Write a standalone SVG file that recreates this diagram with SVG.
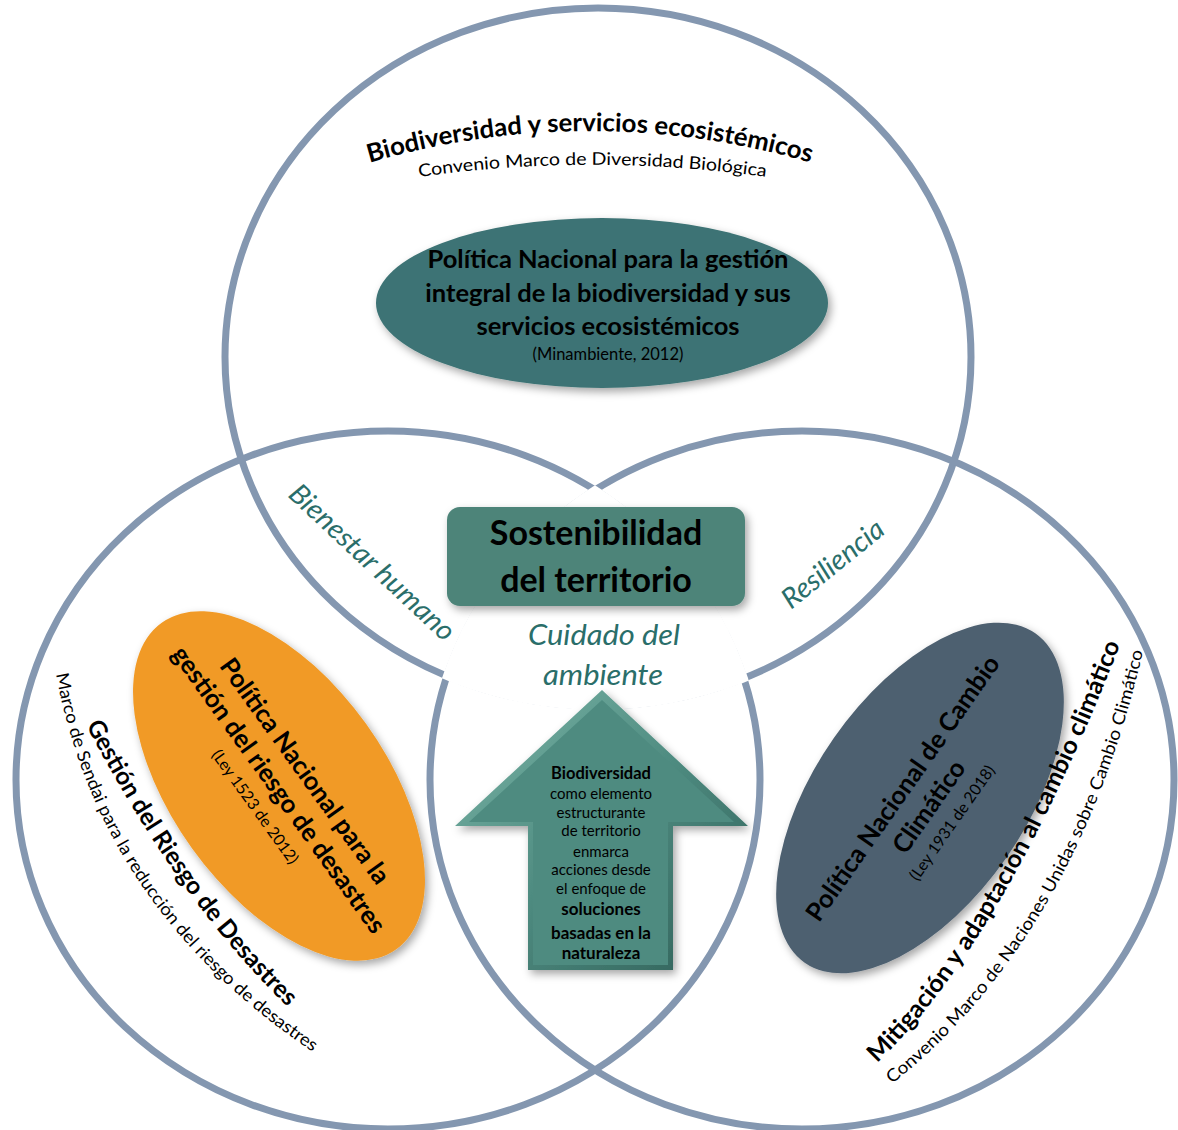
<svg xmlns="http://www.w3.org/2000/svg" width="1178" height="1130" viewBox="0 0 1178 1130">
<defs>
<style>
.ring{fill:none;stroke:#8497B0;stroke-width:7}
.b{font-family:Lato,'Open Sans',sans-serif;font-weight:700;fill:#000}
.r{font-family:Lato,'Open Sans',sans-serif;font-weight:400;fill:#000}
.it{font-family:Lato,'Open Sans',sans-serif;font-style:italic;font-weight:400;fill:#2A6E6A}
.c{text-anchor:middle}
</style>
<filter id="sh" x="-20%" y="-20%" width="145%" height="150%">
<feDropShadow dx="3" dy="4" stdDeviation="4" flood-color="#000" flood-opacity="0.35"/>
</filter>
<clipPath id="cT"><ellipse cx="598" cy="357" rx="377" ry="353"/></clipPath>
<clipPath id="cL"><ellipse cx="388" cy="780" rx="376" ry="353"/></clipPath>
<linearGradient id="ga" x1="0" y1="0" x2="1" y2="1">
<stop offset="0" stop-color="#7DB7A9"/>
<stop offset="0.5" stop-color="#4E8B80"/>
<stop offset="1" stop-color="#2F5F57"/>
</linearGradient>
<path id="pTitle" d="M340,172 A785,785 0 0 1 840,172"/>
<path id="pSub" d="M380,183 A1253,1253 0 0 1 805,183"/>
<path id="pLB" d="M86,725 Q181,906 291,1010"/>
<path id="pLT" d="M56,674 Q100,912 319,1056"/>
<path id="pRB" d="M877,1063 Q1005,941 1122,640"/>
<path id="pRT" d="M892,1084 Q1078,936 1144,647"/>
</defs>
<rect width="1178" height="1130" fill="#fff"/>

<g id="rings">
<ellipse class="ring" cx="598" cy="357" rx="373" ry="349"/>
<ellipse class="ring" cx="388" cy="780" rx="372" ry="349"/>
<ellipse class="ring" cx="802" cy="780" rx="372" ry="349"/>
<g clip-path="url(#cT)"><g clip-path="url(#cL)"><ellipse cx="802" cy="780" rx="376" ry="353" fill="#fff"/></g></g>
</g>

<g id="title-top">
<text class="b" font-size="25.5"><textPath href="#pTitle" startOffset="50%" text-anchor="middle" textLength="447" lengthAdjust="spacingAndGlyphs">Biodiversidad y servicios ecosistémicos</textPath></text>
<text class="r" font-size="17.5"><textPath href="#pSub" startOffset="50%" text-anchor="middle" textLength="348" lengthAdjust="spacingAndGlyphs">Convenio Marco de Diversidad Biológica</textPath></text>
</g>

<g id="n-biodiversidad">
<ellipse cx="602" cy="303" rx="226" ry="85" fill="#3D7374" filter="url(#sh)"/>
<text class="b c" font-size="25.5" x="608" y="268">Política Nacional para la gestión</text>
<text class="b c" font-size="25.5" x="608" y="302">integral de la biodiversidad y sus</text>
<text class="b c" font-size="25.5" x="608" y="335">servicios ecosistémicos</text>
<text class="r c" font-size="16.5" x="608" y="360">(Minambiente, 2012)</text>
</g>

<g id="n-sostenibilidad">
<rect x="447" y="507" width="298" height="99" rx="13" fill="#4D8479" filter="url(#sh)"/>
<text class="b c" font-size="34" x="596" y="545">Sostenibilidad</text>
<text class="b c" font-size="34" x="596" y="592">del territorio</text>
</g>

<g id="labels-intersections">
<text class="it" font-size="28" transform="translate(287,496) rotate(43)" textLength="215" lengthAdjust="spacingAndGlyphs">Bienestar humano</text>
<text class="it" font-size="28" transform="translate(791,610) rotate(-39)" textLength="123" lengthAdjust="spacingAndGlyphs">Resiliencia</text>
<text class="it c" font-size="28" x="604" y="645" textLength="152" lengthAdjust="spacingAndGlyphs">Cuidado del</text>
<text class="it c" font-size="28" x="603" y="685" textLength="120" lengthAdjust="spacingAndGlyphs">ambiente</text>
</g>

<g id="n-riesgo">
<g filter="url(#sh)"><ellipse transform="translate(279,786) rotate(54.3)" rx="201" ry="107" fill="#F19A26"/></g>
<g transform="translate(279,786) rotate(54.3)">
<text class="b c" font-size="25.5" x="3" y="-21">Política Nacional para la</text>
<text class="b c" font-size="25.5" x="3" y="11">gestión del riesgo de desastres</text>
<text class="r c" font-size="16" x="3" y="37">(Ley 1523 de 2012)</text>
</g>
<text class="b" font-size="24.5"><textPath href="#pLB" textLength="348" lengthAdjust="spacingAndGlyphs">Gestión del Riesgo de Desastres</textPath></text>
<text class="r" font-size="17.5"><textPath href="#pLT" textLength="470" lengthAdjust="spacingAndGlyphs">Marco de Sendai para la reducción del riesgo de desastres</textPath></text>
</g>

<g id="n-clima">
<g filter="url(#sh)"><ellipse transform="translate(920,798) rotate(-55)" rx="201" ry="105" fill="#4E6070"/></g>
<g transform="translate(920,798) rotate(-55)">
<text class="b c" font-size="25.5" x="-2" y="-11">Política Nacional de Cambio</text>
<text class="b c" font-size="25.5" x="-2" y="21">Climático</text>
<text class="r c" font-size="16" x="-2" y="46">(Ley 1931 de 2018)</text>
</g>
<text class="b" font-size="24.5"><textPath href="#pRB" textLength="488" lengthAdjust="spacingAndGlyphs">Mitigación y adaptación al cambio climático</textPath></text>
<text class="r" font-size="17.5"><textPath href="#pRT" textLength="510" lengthAdjust="spacingAndGlyphs">Convenio Marco de Naciones Unidas sobre Cambio Climático</textPath></text>
</g>

<g id="n-flecha">
<path d="M602,690 L748,826 L673,826 L673,970 L528,970 L528,826 L455,826 Z" fill="url(#ga)" filter="url(#sh)"/>
<path d="M602,700 L734,822 L668,822 L668,965 L533,965 L533,822 L469,822 Z" fill="#4E8B80"/>
<text class="b c" font-size="16.5" x="601" y="779">Biodiversidad</text>
<text class="r c" font-size="15" x="601" y="799">como elemento</text>
<text class="r c" font-size="15" x="601" y="818">estructurante</text>
<text class="r c" font-size="15" x="601" y="836">de territorio</text>
<text class="r c" font-size="15" x="601" y="857">enmarca</text>
<text class="r c" font-size="15" x="601" y="875">acciones desde</text>
<text class="r c" font-size="15" x="601" y="894">el enfoque de</text>
<text class="b c" font-size="17" x="601" y="915">soluciones</text>
<text class="b c" font-size="17" x="601" y="939">basadas en la</text>
<text class="b c" font-size="17" x="601" y="959">naturaleza</text>
</g>
</svg>
